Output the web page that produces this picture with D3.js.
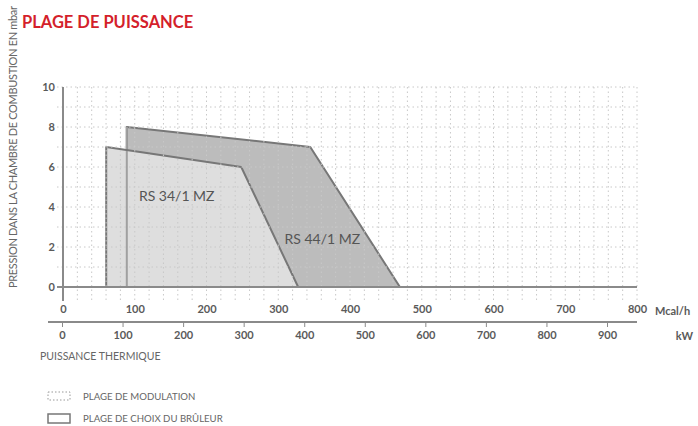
<!DOCTYPE html>
<html><head><meta charset="utf-8">
<script src="https://cdn.jsdelivr.net/npm/d3@7"></script>
<style>
body{margin:0;background:#fff;}
svg{display:block;font-family:Lato,"Open Sans",sans-serif;}
</style></head><body>
<svg id="c" width="698" height="426"></svg>
<script>
// ---- data ----
const title = "PLAGE DE PUISSANCE";
const yLabel = "PRESSION DANS LA CHAMBRE DE COMBUSTION EN mbar";
const xLabel = "PUISSANCE THERMIQUE";
const yTicks = [0, 2, 4, 6, 8, 10];
const mcalTicks = [0, 100, 200, 300, 400, 500, 600, 700, 800];
const kwTicks = [0, 100, 200, 300, 400, 500, 600, 700, 800, 900];
const burner34Name = "RS 34/1 MZ";
const burner34kW = [73, 73, 296, 390];
const burner34mbar = [0, 7, 6, 0];
const burner44Name = "RS 44/1 MZ";
const burner44kW = [107, 107, 410, 558];
const burner44mbar = [0, 8, 7, 0];
const legendItems = ["PLAGE DE MODULATION", "PLAGE DE CHOIX DU BRÛLEUR"];

// ---- scales ----
const svg = d3.select("#c");
const y = d3.scaleLinear().domain([0, 10]).range([287, 87]);
const xM = d3.scaleLinear().domain([0, 800]).range([63, 637]);
const xK = d3.scaleLinear().domain([0, 900]).range([62, 607]);

const gridCol = "#c8c8c8", axisCol = "#8a8a8a", txtCol = "#5a5a5a";

// polygons
const pts = (kw, mb) => kw.map((k, i) => [xK(k), y(mb[i])]);
const p44 = pts(burner44kW, burner44mbar);
const p34 = pts(burner34kW, burner34mbar);
const line = d3.line();
svg.append("path").attr("d", line(p44) + "Z").attr("fill", "#bcbcbc")
  .attr("stroke", "#777").attr("stroke-width", 2).attr("stroke-linejoin", "round");
svg.append("path").attr("d", line(p34) + "Z").attr("fill", "#dedede");
svg.append("path").attr("d", line([p44[0], p44[1]])).attr("stroke", "#a0a0a0").attr("stroke-width", 2).attr("fill", "none");
svg.append("path").attr("d", line(p34) + "Z").attr("fill", "none")
  .attr("stroke", "#777").attr("stroke-width", 2).attr("stroke-linejoin", "round");

// grid (dotted)
const grid = svg.append("g").attr("stroke", gridCol).attr("stroke-width", 1).attr("stroke-dasharray", "1.5,3");
d3.range(1, 11).forEach(v => {
  grid.append("line").attr("x1", 57).attr("x2", xM(800)).attr("y1", y(v)).attr("y2", y(v));
});
d3.range(20, 801, 20).forEach(v => {
  grid.append("line").attr("x1", xM(v)).attr("x2", xM(v)).attr("y1", y(10)).attr("y2", 301);
});

// axes lines
svg.append("line").attr("x1", 57).attr("x2", xM(800)).attr("y1", y(0)).attr("y2", y(0))
  .attr("stroke", axisCol).attr("stroke-width", 2);
svg.append("line").attr("x1", xM(0)).attr("x2", xM(0)).attr("y1", y(10)).attr("y2", 301)
  .attr("stroke", axisCol).attr("stroke-width", 2);

// burner names
svg.append("text").attr("x", (xK(burner34kW[1]) + xK(burner34kW[2])) / 2 + 3).attr("y", y(4.5))
  .attr("text-anchor", "middle").attr("dominant-baseline", "middle")
  .attr("font-size", 14).attr("fill", "#555").text(burner34Name);
svg.append("text").attr("x", xK(430)).attr("y", y(2.35))
  .attr("text-anchor", "middle").attr("dominant-baseline", "middle")
  .attr("font-size", 14).attr("fill", "#555").text(burner44Name);

// y ticks
const yAx = svg.append("g").attr("transform", "translate(57,0)")
  .call(d3.axisLeft(y).tickValues(yTicks).tickSize(0).tickPadding(2));
yAx.select(".domain").remove();
yAx.selectAll("text").attr("font-size", 11).attr("font-weight", 700).attr("fill", txtCol)
  .attr("font-family", "Lato,sans-serif");

// Mcal/h labels
const mAx = svg.append("g").attr("transform", "translate(0,305)")
  .call(d3.axisBottom(xM).tickValues(mcalTicks).tickSize(0).tickPadding(0));
mAx.select(".domain").remove();
mAx.selectAll("text").attr("font-size", 11).attr("font-weight", 700).attr("fill", txtCol)
  .attr("font-family", "Lato,sans-serif");
svg.append("text").attr("x", 655).attr("y", 315).attr("font-size", 11).attr("font-weight", 700)
  .attr("fill", txtCol).text("Mcal/h");

// kW axis
svg.append("line").attr("x1", 48).attr("x2", xM(800)).attr("y1", 322).attr("y2", 322)
  .attr("stroke", axisCol).attr("stroke-width", 2);
const kAx = svg.append("g").attr("transform", "translate(0,322)")
  .call(d3.axisBottom(xK).tickValues(kwTicks).tickSize(5).tickPadding(4));
kAx.select(".domain").remove();
kAx.selectAll("line").attr("stroke", axisCol).attr("stroke-width", 1);
kAx.selectAll("text").attr("font-size", 11).attr("font-weight", 700).attr("fill", txtCol)
  .attr("font-family", "Lato,sans-serif");
svg.append("text").attr("x", 693).attr("y", 340).attr("text-anchor", "end").attr("font-size", 11)
  .attr("font-weight", 700).attr("fill", txtCol).text("kW");

// labels
svg.append("text").attr("x", 40).attr("y", 360).attr("font-size", 10.5).attr("fill", "#666")
  .text(xLabel);
svg.append("text").attr("transform", "translate(17,288) rotate(-90)").attr("font-size", 11)
  .attr("textLength", 282).attr("lengthAdjust", "spacing")
  .attr("fill", "#666").text(yLabel);
svg.append("text").attr("x", 22).attr("y", 28).attr("font-size", 16.5).attr("font-weight", 700)
  .attr("fill", "#d41f2b").text(title);

// legend
svg.append("rect").attr("x", 48).attr("y", 392).attr("width", 22).attr("height", 8)
  .attr("fill", "none").attr("stroke", "#999").attr("stroke-width", 1).attr("stroke-dasharray", "1.5,2");
svg.append("rect").attr("x", 48).attr("y", 414).attr("width", 22).attr("height", 9)
  .attr("fill", "none").attr("stroke", "#777").attr("stroke-width", 1.5);
legendItems.forEach((t, i) => {
  svg.append("text").attr("x", 83).attr("y", 400 + i * 22).attr("font-size", 9.6)
    .attr("fill", "#666").text(t);
});
</script>
</body></html>
